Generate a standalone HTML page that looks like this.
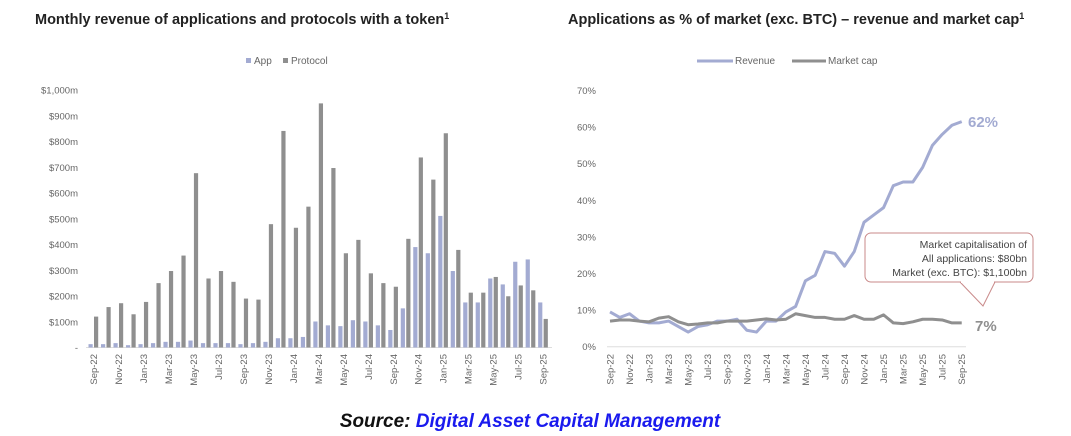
<!DOCTYPE html>
<html><head><meta charset="utf-8"><style>
html,body{margin:0;padding:0;background:#fff;width:1071px;height:436px;overflow:hidden}
svg{display:block;font-family:"Liberation Sans",sans-serif}
</style></head><body>
<svg id="s" width="1071" height="436" viewBox="0 0 1071 436" xmlns="http://www.w3.org/2000/svg">
<text x="35" y="24" font-size="14.5" font-weight="bold" fill="#222">Monthly revenue of applications and protocols with a token<tspan font-size="9" dy="-5">1</tspan></text>
<text x="568" y="24" font-size="14.5" font-weight="bold" fill="#222">Applications as % of market (exc. BTC) – revenue and market cap<tspan font-size="9" dy="-5">1</tspan></text>
<rect x="246" y="58" width="5" height="5" fill="#a3abd2"/><text x="254" y="64" font-size="10" fill="#666">App</text>
<rect x="283" y="58" width="5" height="5" fill="#8f8f8f"/><text x="291" y="64" font-size="10" fill="#666">Protocol</text>
<line x1="697" y1="61" x2="733" y2="61" stroke="#a3abd2" stroke-width="3"/><text x="735" y="64" font-size="10" fill="#666">Revenue</text>
<line x1="792" y1="61" x2="826" y2="61" stroke="#8f8f8f" stroke-width="3"/><text x="828" y="64" font-size="10" fill="#666">Market cap</text>
<g id="L"></g><g id="R"></g>
<rect x="865" y="233" width="168" height="49" rx="6" fill="#fff" stroke="#c98a8a" stroke-width="1"/>
<polygon points="960,282 983,306 995,282" fill="#fff" stroke="#c98a8a"/>
<line x1="961" y1="282" x2="994" y2="282" stroke="#fff" stroke-width="2"/>
<text font-size="10.5" fill="#444" text-anchor="end"><tspan x="1027" y="248">Market capitalisation of</tspan><tspan x="1027" y="262">All applications: $80bn</tspan><tspan x="1027" y="276">Market (exc. BTC): $1,100bn</tspan></text>
<text x="968" y="127" font-size="15" font-weight="bold" fill="#a3abd2">62%</text>
<text x="975" y="331" font-size="15" font-weight="bold" fill="#8f8f8f">7%</text>
<text x="530" y="427" font-size="19" font-style="italic" font-weight="bold" text-anchor="middle" fill="#111">Source: <tspan fill="#1a1aee">Digital Asset Capital Management</tspan></text>
</svg>
<script>
const NS="http://www.w3.org/2000/svg";
function el(p,t,a,txt){const e=document.createElementNS(NS,t);for(const k in a)e.setAttribute(k,a[k]);if(txt!=null)e.textContent=txt;p.appendChild(e);return e;}
const months=["Sep-22","Oct-22","Nov-22","Dec-22","Jan-23","Feb-23","Mar-23","Apr-23","May-23","Jun-23","Jul-23","Aug-23","Sep-23","Oct-23","Nov-23","Dec-23","Jan-24","Feb-24","Mar-24","Apr-24","May-24","Jun-24","Jul-24","Aug-24","Sep-24","Oct-24","Nov-24","Dec-24","Jan-25","Feb-25","Mar-25","Apr-25","May-25","Jun-25","Jul-25","Aug-25","Sep-25"];
const prot=[120,157,172,129,177,250,297,357,677,268,297,255,190,186,479,841,465,547,948,697,366,418,288,250,236,422,738,652,832,379,213,213,274,199,241,222,111];
const app=[13,13,17,9,13,17,22,22,27,17,17,17,13,17,22,36,36,41,101,86,83,106,101,86,68,152,390,366,511,297,175,175,268,245,333,342,175];
const L=document.getElementById("L");
const base=347.5,sc=0.2575;
const yl=["-","$100m","$200m","$300m","$400m","$500m","$600m","$700m","$800m","$900m","$1,000m"];
yl.forEach((t,i)=>el(L,"text",{x:78,y:base-i*25.75+3.5,"font-size":9.5,fill:"#666","text-anchor":"end"},t));
el(L,"line",{x1:86,y1:base,x2:552,y2:base,stroke:"#ddd"});
for(let i=0;i<37;i++){const px=94+i*12.49;
el(L,"rect",{x:px-5.5,y:base-app[i]*sc,width:4.2,height:app[i]*sc,fill:"#a3abd2"});
el(L,"rect",{x:px,y:base-prot[i]*sc,width:4.2,height:prot[i]*sc,fill:"#8f8f8f"});
if(i%2==0){const cx=px-0.5;el(L,"text",{x:0,y:0,"font-size":9.5,fill:"#666","text-anchor":"end",transform:`translate(${cx+3.5},354) rotate(-90)`},months[i]);}}
const R=document.getElementById("R");
const b2=346.7,s2=3.66;
for(let i=0;i<=7;i++)el(R,"text",{x:596,y:b2-i*36.6+3.5,"font-size":9.5,fill:"#666","text-anchor":"end"},(i*10)+"%");
el(R,"line",{x1:607,y1:b2,x2:966,y2:b2,stroke:"#ddd"});
const rev=[9.5,8,9,7,6.5,6.5,7,5.5,4,5.5,6,7,7,7.5,4.5,4,7,7,9.5,11,18,19.5,26,25.5,22,26,34,36,38,44,45,45,49,55,58,60.5,61.5];
const mc=[7,7.3,7.3,7,6.8,7.8,8.2,6.8,6,6.2,6.5,6.5,7,7,7,7.3,7.6,7.3,7.5,9,8.5,8,8,7.5,7.5,8.5,7.5,7.5,8.7,6.5,6.3,6.8,7.5,7.5,7.3,6.5,6.5];
const X=i=>610+i*9.77;
el(R,"polyline",{points:rev.map((v,i)=>X(i)+","+(b2-v*s2)).join(" "),fill:"none",stroke:"#a3abd2","stroke-width":3,"stroke-linejoin":"round"});
el(R,"polyline",{points:mc.map((v,i)=>X(i)+","+(b2-v*s2)).join(" "),fill:"none",stroke:"#8f8f8f","stroke-width":3,"stroke-linejoin":"round"});
for(let i=0;i<37;i+=2)el(R,"text",{x:0,y:0,"font-size":9.5,fill:"#666","text-anchor":"end",transform:`translate(${X(i)+3.5},354) rotate(-90)`},months[i]);
</script>
</body></html>
